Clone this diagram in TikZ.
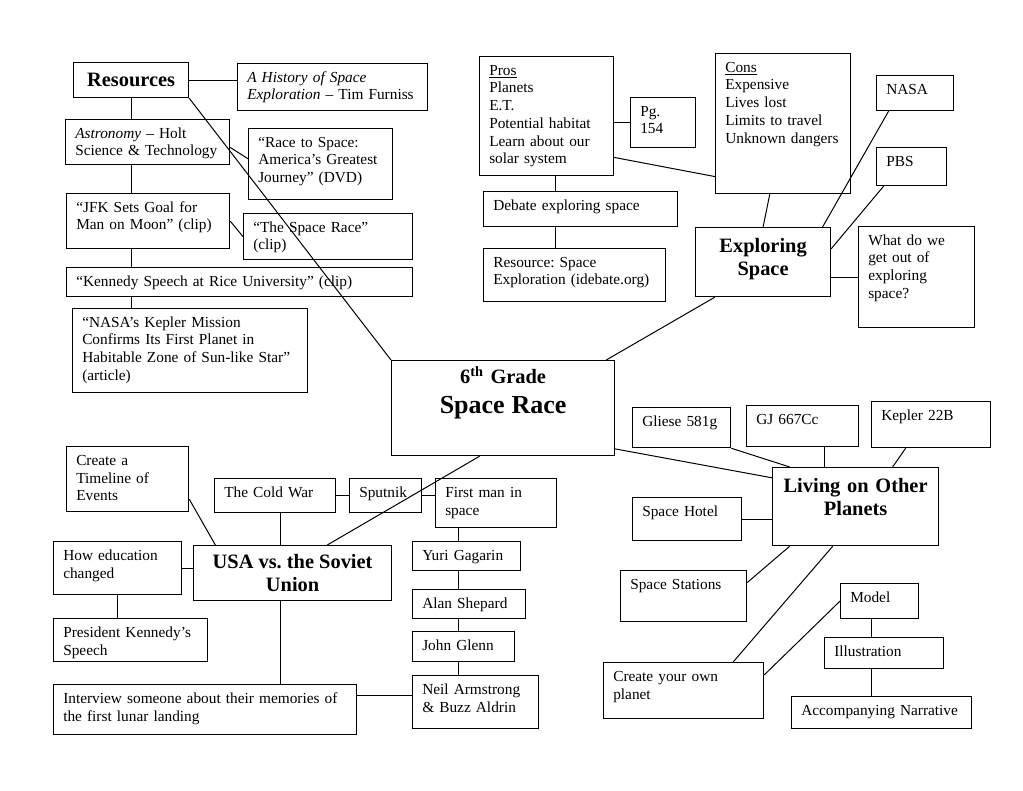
\documentclass[tikz,border=0pt]{standalone}
\usepackage{fontspec}
\setmainfont{Liberation Serif}
\frenchspacing
\begin{document}
\begin{tikzpicture}[x=0.75pt, y=-0.75pt]
        \tikzstyle{box}=[draw, line width=0.9pt, anchor=north west,
            inner sep=0pt]
        \tikzstyle{lt}=[anchor=north west, align=left, text width=260pt,
            inner xsep=7.5pt, inner ysep=0pt, text height=14.25pt,
            font=\fontsize{11.5}{13.3}\selectfont]
        \tikzstyle{hd}=[anchor=north, align=center, text width=200pt,
            inner sep=0pt, text height=18.75pt,
            font=\fontsize{15.3}{17.6}\selectfont\bfseries]
        \tikzstyle{link}=[line width=0.75pt]
        \tikzset{wh/.style 2 args={minimum width=#1*0.75pt,
            minimum height=#2*0.75pt}}

        \useasboundingbox (0, 0) rectangle (1023, 791);

        % resources
        \node[box, wh={115}{35}, font=\fontsize{15.3}{17.6}\selectfont\bfseries] (res) at (73, 62) {Resources};
        \node[box, wh={190}{47}, label={[lt]north west:\textit{A History of Space}\\\textit{Exploration} – Tim Furniss}] (hist) at (237, 63) {};
        \node[box, wh={164}{45}, label={[lt]north west:\textit{Astronomy} – Holt\\Science \& Technology}] (astro) at (65, 119) {};
        \node[box, wh={144}{71}, label={[lt]north west:“Race to Space:\\America’s Greatest\\Journey” (DVD)}] (race) at (248, 128) {};
        \node[box, wh={163}{55}, label={[lt]north west:“JFK Sets Goal for\\Man on Moon” (clip)}] (jfk) at (66, 193) {};
        \node[box, wh={169}{46}, label={[lt]north west:“The Space Race”\\(clip)}] (clip) at (243, 213) {};
        \node[box, wh={346}{29}, label={[lt]north west:“Kennedy Speech at Rice University” (clip)}] (rice) at (66, 267) {};
        \node[box, wh={235}{84}, label={[lt]north west:“NASA’s Kepler Mission\\Confirms Its First Planet in\\Habitable Zone of Sun-like Star”\\(article)}] (kepart) at (72, 308) {};

        % exploring space
        \node[box, wh={134}{119}, label={[lt]north west:\underline{Pros}\\Planets\\E.T.\\Potential habitat\\Learn about our\\solar system}] (pros) at (479, 56) {};
        \node[box, wh={65}{50}, label={[lt]north west:Pg.\\154}] (pg) at (630, 97) {};
        \node[box, wh={135}{140}, label={[lt]north west:\underline{Cons}\\Expensive\\Lives lost\\Limits to travel\\Unknown dangers}] (cons) at (715, 53) {};
        \node[box, wh={77}{35}, label={[lt]north west:NASA}] (nasa) at (876, 75) {};
        \node[box, wh={70}{38}, label={[lt]north west:PBS}] (pbs) at (876, 147) {};
        \node[box, wh={194}{35}, label={[lt]north west:Debate exploring space}] (debate) at (483, 191) {};
        \node[box, wh={182}{53}, label={[lt]north west:Resource: Space\\Exploration (idebate.org)}] (resource) at (483, 248) {};
        \node[box, wh={135}{69}, label={[hd]north:Exploring\\Space}] (expl) at (695, 227) {};
        \node[box, wh={116}{101}, label={[lt]north west:What do we\\get out of\\exploring\\space?}] (what) at (858, 226) {};

        \node[box, wh={223}{95}, label={[hd, text height=17.25pt]north:6\textsuperscript{th} Grade\\[5pt]{\fontsize{19.5}{22}\selectfont Space Race}}] (main) at (391, 360) {};

        % living on other planets
        \node[box, wh={98}{40}, label={[lt]north west:Gliese 581g}] (gliese) at (632, 407) {};
        \node[box, wh={112}{41}, label={[lt]north west:GJ 667Cc}] (gj) at (746, 405) {};
        \node[box, wh={119}{46}, label={[lt]north west:Kepler 22B}] (kep) at (871, 401) {};
        \node[box, wh={166}{78}, label={[hd]north:Living on Other\\Planets}] (living) at (772, 467) {};
        \node[box, wh={109}{43}, label={[lt]north west:Space Hotel}] (hotel) at (632, 497) {};
        \node[box, wh={126}{51}, label={[lt]north west:Space Stations}] (stations) at (620, 570) {};
        \node[box, wh={160}{56}, label={[lt]north west:Create your own\\planet}] (planet) at (603, 662) {};
        \node[box, wh={78}{35}, label={[lt]north west:Model}] (model) at (840, 583) {};
        \node[box, wh={119}{31}, label={[lt]north west:Illustration}] (illus) at (824, 637) {};
        \node[box, wh={180}{32}, label={[lt]north west:Accompanying Narrative}] (narr) at (791, 696) {};

        % usa vs. the soviet union
        \node[box, wh={122}{65}, label={[lt]north west:Create a\\Timeline of\\Events}] (timeline) at (66, 446) {};
        \node[box, wh={121}{34}, label={[lt]north west:The Cold War}] (cold) at (214, 478) {};
        \node[box, wh={72}{34}, label={[lt]north west:Sputnik}] (sput) at (349, 478) {};
        \node[box, wh={121}{49}, label={[lt]north west:First man in\\space}] (first) at (435, 478) {};
        \node[box, wh={198}{55}, align=center, font=\fontsize{15.3}{17.6}\selectfont\bfseries] (usa) at (193, 545) {USA vs. the Soviet\\Union};
        \node[box, wh={128}{53}, label={[lt]north west:How education\\changed}] (edu) at (53, 541) {};
        \node[box, wh={154}{43}, label={[lt]north west:President Kennedy’s\\Speech}] (pres) at (53, 618) {};
        \node[box, wh={303}{50}, label={[lt]north west:Interview someone about their memories of\\the first lunar landing}] (interview) at (53, 684) {};
        \node[box, wh={108}{29}, label={[lt]north west:Yuri Gagarin}] (yuri) at (412, 541) {};
        \node[box, wh={113}{29}, label={[lt]north west:Alan Shepard}] (alan) at (412, 589) {};
        \node[box, wh={102}{30}, label={[lt]north west:John Glenn}] (john) at (412, 631) {};
        \node[box, wh={126}{53}, label={[lt]north west:Neil Armstrong\\\& Buzz Aldrin}] (neil) at (412, 675) {};

        \draw[link] (res.east) to (hist.west |- res.east);
        \draw[link] (res.south) to (astro.north -| res.south);
        \draw[link] (astro.south -| res.south) to (jfk.north -| res.south);
        \draw[link] (jfk.south -| res.south) to (rice.north -| res.south);
        \draw[link] (rice.south -| res.south) to (kepart.north -| res.south);
        \draw[link] ([yshift=-4pt]astro.east) to ([yshift=4pt]race.west);
        \draw[link] (jfk.east) to (clip.west);
        \draw[link] (res.south east) to (main.north west);

        \draw[link] (pros.east |- pg.west) to (pg.west);
        \draw[link] ([yshift=-31pt]pros.east) to ([yshift=-39.75pt]cons.west);
        \draw[link] ([xshift=6.75pt]pros.south) to ([xshift=6.75pt]pros.south |- debate.north);
        \draw[link] ([xshift=6.75pt]pros.south |- debate.south) to ([xshift=6.75pt]pros.south |- resource.north);
        \draw[link] ([xshift=-10pt]cons.south) to (expl.north);
        \draw[link] ([xshift=-19.9pt]nasa.south) to ([xshift=44.6pt]expl.north);
        \draw[link] ([xshift=-21pt]pbs.south) to ([yshift=10pt]expl.east);
        \draw[link] (expl.east |- what.west) to (what.west);
        \draw[link] (expl.216) to (main.25);

        \draw[link] (main.-20) to (living.161);
        \draw[link] (gliese.south east) to (living.149);
        \draw[link] ([xshift=16.5pt]gj.south) to ([xshift=16.5pt]gj.south |- living.north);
        \draw[link] ([xshift=-19.1pt]kep.south) to ([xshift=27.75pt]living.north);
        \draw[link] (hotel.east) to (hotel.east -| living.west);
        \draw[link] (stations.12) to (living.211);
        \draw[link] (planet.30) to (living.240);
        \draw[link] (planet.11) to (model.west);
        \draw[link] ([xshift=-6pt]model.south) to ([xshift=-6pt]model.south |- illus.north);
        \draw[link] ([xshift=-6pt]model.south |- illus.south) to ([xshift=-6pt]model.south |- narr.north);

        \draw[link] (main.244) to (usa.39);
        \draw[link] (timeline.-18) to (usa.160);
        \draw[link] ([xshift=4pt]cold.south) to ([xshift=4pt]cold.south |- usa.north);
        \draw[link] (cold.east) to (sput.west);
        \draw[link] (sput.east) to (first.west |- sput.east);
        \draw[link] (edu.east) to (edu.east -| usa.west);
        \draw[link] (edu.south) to (edu.south |- pres.north);
        \draw[link] ([xshift=-9pt]usa.south) to ([xshift=-9pt]usa.south |- interview.north);
        \draw[link] ([yshift=5pt]neil.west -| interview.east) to ([yshift=5pt]neil.west);
        \foreach \a/\b in {first/yuri, yuri/alan, alan/john, john/neil}
            \draw[link] ([xshift=34.5pt]\b.north west) to ([xshift=34.5pt]\b.north west |- \a.south);

    \end{tikzpicture}
\end{document}
